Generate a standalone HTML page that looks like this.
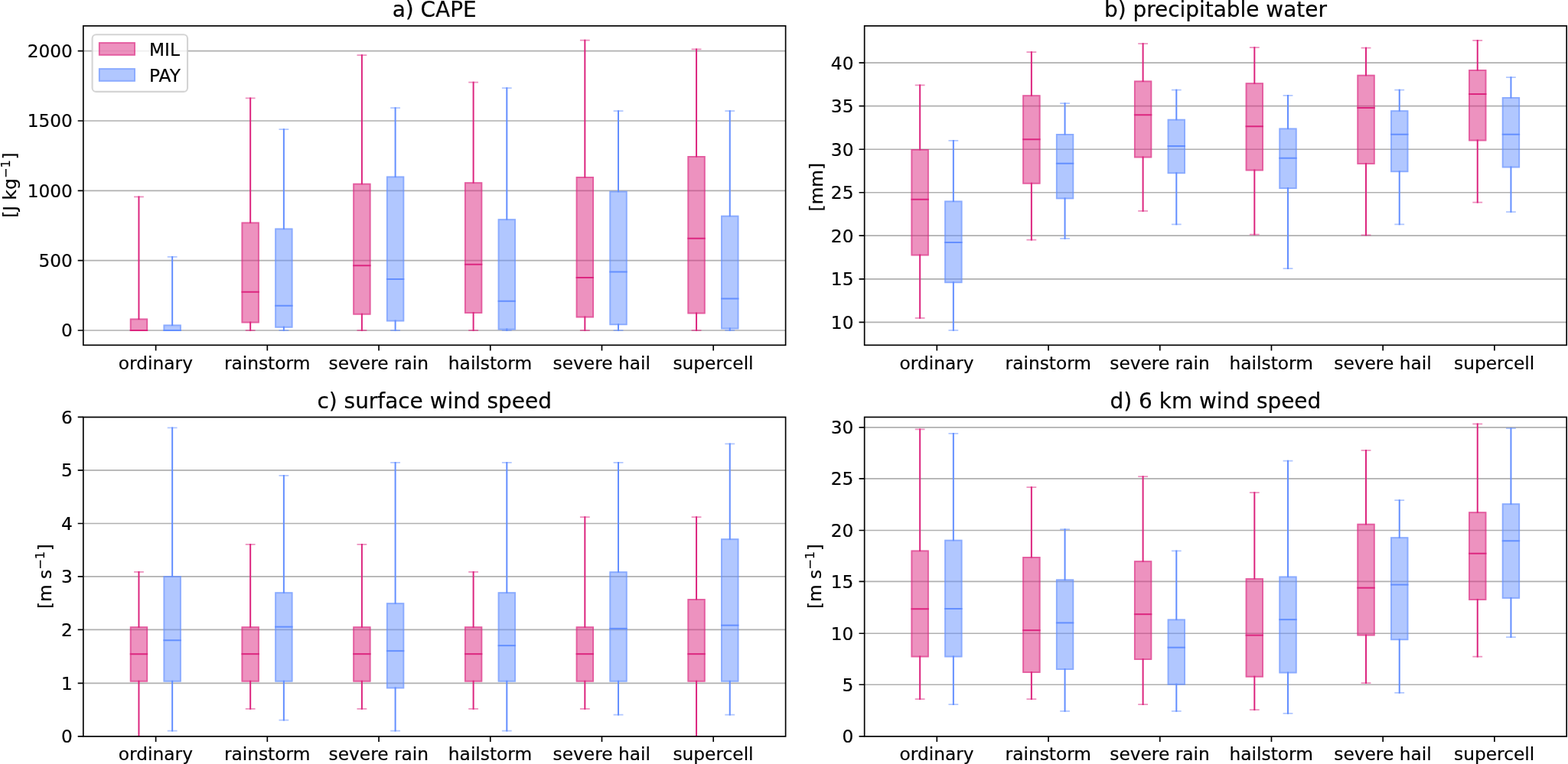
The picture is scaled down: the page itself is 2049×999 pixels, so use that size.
<!DOCTYPE html>
<html lang="en"><head><meta charset="utf-8"><title>Convective environment box plots</title>
<style>html,body{margin:0;padding:0;background:#fff}body{width:2049px;height:999px;overflow:hidden}svg{display:block}text{font-family:"DejaVu Sans","Liberation Sans",sans-serif;fill:#000;stroke:#000;stroke-width:.2px;stroke-linejoin:round}.t{font-size:23.25px}.ti{font-size:27.93px}.xt{font-size:23.3px}.sup{font-size:16.27px}</style></head><body>
<svg width="2049" height="999" viewBox="0 0 2049 999">
<rect width="2049" height="999" fill="#fff"/>
<g id="panel-a">
<clipPath id="clip-a"><rect x="108.8" y="33.85" width="917.8" height="417.45"/></clipPath>
<path d="M108.8 432H1026.6M108.8 340.68H1026.6M108.8 249.35H1026.6M108.8 158.02H1026.6M108.8 66.7H1026.6" stroke="#b0b0b0" stroke-width="1.67" fill="none" clip-path="url(#clip-a)"/>
<g clip-path="url(#clip-a)">
<path d="M181.45 418V256.55M181.45 431V432.9" stroke="#DC267F" stroke-width="2.0" fill="none"/><path d="M175.05 257.45H187.85M175.05 432H187.85" stroke="#DC267F" stroke-opacity=".5" stroke-width="1.8" fill="none"/><rect x="169.8" y="416.5" width="23.3" height="16.4" fill="#DC267F" fill-opacity=".5"/><rect x="170.75" y="417.45" width="21.4" height="14.5" fill="none" stroke="#DC267F" stroke-opacity=".5" stroke-width="1.9"/><path d="M169.8 432H193.1" stroke="#DC267F" stroke-width="2.0" fill="none"/>
<path d="M327.17 292V127.55M327.17 420.5V432.9" stroke="#DC267F" stroke-width="2.0" fill="none"/><path d="M320.77 128.45H333.57M320.77 432H333.57" stroke="#DC267F" stroke-opacity=".5" stroke-width="1.8" fill="none"/><rect x="315.52" y="290.5" width="23.3" height="131.9" fill="#DC267F" fill-opacity=".5"/><rect x="316.47" y="291.45" width="21.4" height="130" fill="none" stroke="#DC267F" stroke-opacity=".5" stroke-width="1.9"/><path d="M315.52 381.65H338.82" stroke="#DC267F" stroke-width="2.0" fill="none"/>
<path d="M472.89 241.25V71.3M472.89 409.75V432.9" stroke="#DC267F" stroke-width="2.0" fill="none"/><path d="M466.49 72.2H479.29M466.49 432H479.29" stroke="#DC267F" stroke-opacity=".5" stroke-width="1.8" fill="none"/><rect x="461.24" y="239.75" width="23.3" height="171.9" fill="#DC267F" fill-opacity=".5"/><rect x="462.19" y="240.7" width="21.4" height="170" fill="none" stroke="#DC267F" stroke-opacity=".5" stroke-width="1.9"/><path d="M461.24 347.15H484.54" stroke="#DC267F" stroke-width="2.0" fill="none"/>
<path d="M618.61 239.75V106.8M618.61 408V432.9" stroke="#DC267F" stroke-width="2.0" fill="none"/><path d="M612.21 107.7H625.01M612.21 432H625.01" stroke="#DC267F" stroke-opacity=".5" stroke-width="1.8" fill="none"/><rect x="606.96" y="238.25" width="23.3" height="171.65" fill="#DC267F" fill-opacity=".5"/><rect x="607.91" y="239.2" width="21.4" height="169.75" fill="none" stroke="#DC267F" stroke-opacity=".5" stroke-width="1.9"/><path d="M606.96 345.65H630.26" stroke="#DC267F" stroke-width="2.0" fill="none"/>
<path d="M764.33 232.5V51.8M764.33 413.5V432.9" stroke="#DC267F" stroke-width="2.0" fill="none"/><path d="M757.93 52.7H770.73M757.93 432H770.73" stroke="#DC267F" stroke-opacity=".5" stroke-width="1.8" fill="none"/><rect x="752.68" y="231" width="23.3" height="184.4" fill="#DC267F" fill-opacity=".5"/><rect x="753.63" y="231.95" width="21.4" height="182.5" fill="none" stroke="#DC267F" stroke-opacity=".5" stroke-width="1.9"/><path d="M752.68 362.9H775.98" stroke="#DC267F" stroke-width="2.0" fill="none"/>
<path d="M910.05 205.5V63.55M910.05 408.5V432.9" stroke="#DC267F" stroke-width="2.0" fill="none"/><path d="M903.65 64.45H916.45M903.65 432H916.45" stroke="#DC267F" stroke-opacity=".5" stroke-width="1.8" fill="none"/><rect x="898.4" y="204" width="23.3" height="206.4" fill="#DC267F" fill-opacity=".5"/><rect x="899.35" y="204.95" width="21.4" height="204.5" fill="none" stroke="#DC267F" stroke-opacity=".5" stroke-width="1.9"/><path d="M898.4 311.65H921.7" stroke="#DC267F" stroke-width="2.0" fill="none"/>
<path d="M225.15 426V335.05M225.15 431V432.9" stroke="#648FFF" stroke-width="2.0" fill="none"/><path d="M218.75 335.95H231.55M218.75 432H231.55" stroke="#648FFF" stroke-opacity=".5" stroke-width="1.8" fill="none"/><rect x="213.5" y="424.5" width="23.3" height="8.4" fill="#648FFF" fill-opacity=".5"/><rect x="214.45" y="425.45" width="21.4" height="6.5" fill="none" stroke="#648FFF" stroke-opacity=".5" stroke-width="1.9"/><path d="M213.5 432H236.8" stroke="#648FFF" stroke-width="2.0" fill="none"/>
<path d="M370.87 300V168.15M370.87 426.75V432.9" stroke="#648FFF" stroke-width="2.0" fill="none"/><path d="M364.47 169.05H377.27M364.47 432H377.27" stroke="#648FFF" stroke-opacity=".5" stroke-width="1.8" fill="none"/><rect x="359.22" y="298.5" width="23.3" height="130.15" fill="#648FFF" fill-opacity=".5"/><rect x="360.17" y="299.45" width="21.4" height="128.25" fill="none" stroke="#648FFF" stroke-opacity=".5" stroke-width="1.9"/><path d="M359.22 399.65H382.52" stroke="#648FFF" stroke-width="2.0" fill="none"/>
<path d="M516.59 232V140.3M516.59 418.5V432.9" stroke="#648FFF" stroke-width="2.0" fill="none"/><path d="M510.19 141.2H522.99M510.19 432H522.99" stroke="#648FFF" stroke-opacity=".5" stroke-width="1.8" fill="none"/><rect x="504.94" y="230.5" width="23.3" height="189.9" fill="#648FFF" fill-opacity=".5"/><rect x="505.89" y="231.45" width="21.4" height="188" fill="none" stroke="#648FFF" stroke-opacity=".5" stroke-width="1.9"/><path d="M504.94 364.9H528.24" stroke="#648FFF" stroke-width="2.0" fill="none"/>
<path d="M662.31 287.75V114.3M662.31 429.5V432.9" stroke="#648FFF" stroke-width="2.0" fill="none"/><path d="M655.91 115.2H668.71M655.91 432H668.71" stroke="#648FFF" stroke-opacity=".5" stroke-width="1.8" fill="none"/><rect x="650.66" y="286.25" width="23.3" height="145.15" fill="#648FFF" fill-opacity=".5"/><rect x="651.61" y="287.2" width="21.4" height="143.25" fill="none" stroke="#648FFF" stroke-opacity=".5" stroke-width="1.9"/><path d="M650.66 393.65H673.96" stroke="#648FFF" stroke-width="2.0" fill="none"/>
<path d="M808.03 251.25V144.3M808.03 423.25V432.9" stroke="#648FFF" stroke-width="2.0" fill="none"/><path d="M801.63 145.2H814.43M801.63 432H814.43" stroke="#648FFF" stroke-opacity=".5" stroke-width="1.8" fill="none"/><rect x="796.38" y="249.75" width="23.3" height="175.4" fill="#648FFF" fill-opacity=".5"/><rect x="797.33" y="250.7" width="21.4" height="173.5" fill="none" stroke="#648FFF" stroke-opacity=".5" stroke-width="1.9"/><path d="M796.38 355.4H819.68" stroke="#648FFF" stroke-width="2.0" fill="none"/>
<path d="M953.75 283.25V144.3M953.75 428.5V432.9" stroke="#648FFF" stroke-width="2.0" fill="none"/><path d="M947.35 145.2H960.15M947.35 432H960.15" stroke="#648FFF" stroke-opacity=".5" stroke-width="1.8" fill="none"/><rect x="942.1" y="281.75" width="23.3" height="148.65" fill="#648FFF" fill-opacity=".5"/><rect x="943.05" y="282.7" width="21.4" height="146.75" fill="none" stroke="#648FFF" stroke-opacity=".5" stroke-width="1.9"/><path d="M942.1 390.4H965.4" stroke="#648FFF" stroke-width="2.0" fill="none"/>
</g>
<path d="M108.8 432h-7.1M108.8 340.68h-7.1M108.8 249.35h-7.1M108.8 158.02h-7.1M108.8 66.7h-7.1M203.6 451.3v7.1M349.32 451.3v7.1M495.04 451.3v7.1M640.76 451.3v7.1M786.48 451.3v7.1M932.2 451.3v7.1" stroke="#000" stroke-width="1.67" fill="none"/>
<rect x="108.8" y="33.85" width="917.8" height="417.45" fill="none" stroke="#000" stroke-width="1.67"/>
<text class="t" x="94.9" y="440.45" text-anchor="end">0</text>
<text class="t" x="94.9" y="349.12" text-anchor="end">500</text>
<text class="t" x="94.9" y="257.8" text-anchor="end">1000</text>
<text class="t" x="94.9" y="166.47" text-anchor="end">1500</text>
<text class="t" x="94.9" y="75.15" text-anchor="end">2000</text>
<text class="xt" x="203.4" y="482.5" text-anchor="middle">ordinary</text>
<text class="xt" x="349.12" y="482.5" text-anchor="middle">rainstorm</text>
<text class="xt" x="494.84" y="482.5" text-anchor="middle">severe rain</text>
<text class="xt" x="640.56" y="482.5" text-anchor="middle">hailstorm</text>
<text class="xt" x="786.28" y="482.5" text-anchor="middle">severe hail</text>
<text class="xt" x="932" y="482.5" text-anchor="middle">supercell</text>
<text class="ti" x="567.7" y="21.85" text-anchor="middle">a) CAPE</text>
<text class="t" transform="translate(21.4 242.08) rotate(-90)" text-anchor="middle">[J kg<tspan class="sup" dy="-8.4" dx="0.2">−1</tspan><tspan dy="8.4" dx="0.6">]</tspan></text>
</g>
<g id="panel-b">
<clipPath id="clip-b"><rect x="1129.65" y="33.85" width="917.55" height="417.45"/></clipPath>
<path d="M1129.65 421.3H2047.2M1129.65 364.8H2047.2M1129.65 308.1H2047.2M1129.65 251.75H2047.2M1129.65 195.25H2047.2M1129.65 138.55H2047.2M1129.65 82.2H2047.2" stroke="#b0b0b0" stroke-width="1.67" fill="none" clip-path="url(#clip-b)"/>
<g clip-path="url(#clip-b)">
<path d="M1202.15 196.5V110.55M1202.15 332.5V416.8" stroke="#DC267F" stroke-width="2.0" fill="none"/><path d="M1195.75 111.45H1208.55M1195.75 415.9H1208.55" stroke="#DC267F" stroke-opacity=".5" stroke-width="1.8" fill="none"/><rect x="1190.5" y="195" width="23.3" height="139.4" fill="#DC267F" fill-opacity=".5"/><rect x="1191.45" y="195.95" width="21.4" height="137.5" fill="none" stroke="#DC267F" stroke-opacity=".5" stroke-width="1.9"/><path d="M1190.5 260.75H1213.8" stroke="#DC267F" stroke-width="2.0" fill="none"/>
<path d="M1347.87 125.75V67.3M1347.87 238.75V314.55" stroke="#DC267F" stroke-width="2.0" fill="none"/><path d="M1341.47 68.2H1354.27M1341.47 313.65H1354.27" stroke="#DC267F" stroke-opacity=".5" stroke-width="1.8" fill="none"/><rect x="1336.22" y="124.25" width="23.3" height="116.4" fill="#DC267F" fill-opacity=".5"/><rect x="1337.17" y="125.2" width="21.4" height="114.5" fill="none" stroke="#DC267F" stroke-opacity=".5" stroke-width="1.9"/><path d="M1336.22 182.15H1359.52" stroke="#DC267F" stroke-width="2.0" fill="none"/>
<path d="M1493.59 107V56.3M1493.59 204.5V276.8" stroke="#DC267F" stroke-width="2.0" fill="none"/><path d="M1487.19 57.2H1499.99M1487.19 275.9H1499.99" stroke="#DC267F" stroke-opacity=".5" stroke-width="1.8" fill="none"/><rect x="1481.94" y="105.5" width="23.3" height="100.9" fill="#DC267F" fill-opacity=".5"/><rect x="1482.89" y="106.45" width="21.4" height="99" fill="none" stroke="#DC267F" stroke-opacity=".5" stroke-width="1.9"/><path d="M1481.94 150.15H1505.24" stroke="#DC267F" stroke-width="2.0" fill="none"/>
<path d="M1639.31 109.75V61.3M1639.31 221.5V307.55" stroke="#DC267F" stroke-width="2.0" fill="none"/><path d="M1632.91 62.2H1645.71M1632.91 306.65H1645.71" stroke="#DC267F" stroke-opacity=".5" stroke-width="1.8" fill="none"/><rect x="1627.66" y="108.25" width="23.3" height="115.15" fill="#DC267F" fill-opacity=".5"/><rect x="1628.61" y="109.2" width="21.4" height="113.25" fill="none" stroke="#DC267F" stroke-opacity=".5" stroke-width="1.9"/><path d="M1627.66 165.15H1650.96" stroke="#DC267F" stroke-width="2.0" fill="none"/>
<path d="M1785.03 99.25V61.8M1785.03 213V308.3" stroke="#DC267F" stroke-width="2.0" fill="none"/><path d="M1778.63 62.7H1791.43M1778.63 307.4H1791.43" stroke="#DC267F" stroke-opacity=".5" stroke-width="1.8" fill="none"/><rect x="1773.38" y="97.75" width="23.3" height="117.15" fill="#DC267F" fill-opacity=".5"/><rect x="1774.33" y="98.7" width="21.4" height="115.25" fill="none" stroke="#DC267F" stroke-opacity=".5" stroke-width="1.9"/><path d="M1773.38 140.9H1796.68" stroke="#DC267F" stroke-width="2.0" fill="none"/>
<path d="M1930.75 92.5V52.05M1930.75 182.5V265.45" stroke="#DC267F" stroke-width="2.0" fill="none"/><path d="M1924.35 52.95H1937.15M1924.35 264.55H1937.15" stroke="#DC267F" stroke-opacity=".5" stroke-width="1.8" fill="none"/><rect x="1919.1" y="91" width="23.3" height="93.4" fill="#DC267F" fill-opacity=".5"/><rect x="1920.05" y="91.95" width="21.4" height="91.5" fill="none" stroke="#DC267F" stroke-opacity=".5" stroke-width="1.9"/><path d="M1919.1 122.9H1942.4" stroke="#DC267F" stroke-width="2.0" fill="none"/>
<path d="M1245.85 264V183.05M1245.85 368.25V432.8" stroke="#648FFF" stroke-width="2.0" fill="none"/><path d="M1239.45 183.95H1252.25M1239.45 431.9H1252.25" stroke="#648FFF" stroke-opacity=".5" stroke-width="1.8" fill="none"/><rect x="1234.2" y="262.5" width="23.3" height="107.65" fill="#648FFF" fill-opacity=".5"/><rect x="1235.15" y="263.45" width="21.4" height="105.75" fill="none" stroke="#648FFF" stroke-opacity=".5" stroke-width="1.9"/><path d="M1234.2 316.9H1257.5" stroke="#648FFF" stroke-width="2.0" fill="none"/>
<path d="M1391.57 176.5V134.3M1391.57 258.4V312.8" stroke="#648FFF" stroke-width="2.0" fill="none"/><path d="M1385.17 135.2H1397.97M1385.17 311.9H1397.97" stroke="#648FFF" stroke-opacity=".5" stroke-width="1.8" fill="none"/><rect x="1379.92" y="175" width="23.3" height="85.3" fill="#648FFF" fill-opacity=".5"/><rect x="1380.87" y="175.95" width="21.4" height="83.4" fill="none" stroke="#648FFF" stroke-opacity=".5" stroke-width="1.9"/><path d="M1379.92 213.65H1403.22" stroke="#648FFF" stroke-width="2.0" fill="none"/>
<path d="M1537.29 157.25V116.8M1537.29 225.25V294.3" stroke="#648FFF" stroke-width="2.0" fill="none"/><path d="M1530.89 117.7H1543.69M1530.89 293.4H1543.69" stroke="#648FFF" stroke-opacity=".5" stroke-width="1.8" fill="none"/><rect x="1525.64" y="155.75" width="23.3" height="71.4" fill="#648FFF" fill-opacity=".5"/><rect x="1526.59" y="156.7" width="21.4" height="69.5" fill="none" stroke="#648FFF" stroke-opacity=".5" stroke-width="1.9"/><path d="M1525.64 190.9H1548.94" stroke="#648FFF" stroke-width="2.0" fill="none"/>
<path d="M1683.01 169V124.05M1683.01 245.1V352.05" stroke="#648FFF" stroke-width="2.0" fill="none"/><path d="M1676.61 124.95H1689.41M1676.61 351.15H1689.41" stroke="#648FFF" stroke-opacity=".5" stroke-width="1.8" fill="none"/><rect x="1671.36" y="167.5" width="23.3" height="79.5" fill="#648FFF" fill-opacity=".5"/><rect x="1672.31" y="168.45" width="21.4" height="77.6" fill="none" stroke="#648FFF" stroke-opacity=".5" stroke-width="1.9"/><path d="M1671.36 206.65H1694.66" stroke="#648FFF" stroke-width="2.0" fill="none"/>
<path d="M1828.73 145.75V116.8M1828.73 223.25V294.3" stroke="#648FFF" stroke-width="2.0" fill="none"/><path d="M1822.33 117.7H1835.13M1822.33 293.4H1835.13" stroke="#648FFF" stroke-opacity=".5" stroke-width="1.8" fill="none"/><rect x="1817.08" y="144.25" width="23.3" height="80.9" fill="#648FFF" fill-opacity=".5"/><rect x="1818.03" y="145.2" width="21.4" height="79" fill="none" stroke="#648FFF" stroke-opacity=".5" stroke-width="1.9"/><path d="M1817.08 175.65H1840.38" stroke="#648FFF" stroke-width="2.0" fill="none"/>
<path d="M1974.45 128.5V100.3M1974.45 217.5V278.05" stroke="#648FFF" stroke-width="2.0" fill="none"/><path d="M1968.05 101.2H1980.85M1968.05 277.15H1980.85" stroke="#648FFF" stroke-opacity=".5" stroke-width="1.8" fill="none"/><rect x="1962.8" y="127" width="23.3" height="92.4" fill="#648FFF" fill-opacity=".5"/><rect x="1963.75" y="127.95" width="21.4" height="90.5" fill="none" stroke="#648FFF" stroke-opacity=".5" stroke-width="1.9"/><path d="M1962.8 175.65H1986.1" stroke="#648FFF" stroke-width="2.0" fill="none"/>
</g>
<path d="M1129.65 421.3h-7.1M1129.65 364.8h-7.1M1129.65 308.1h-7.1M1129.65 251.75h-7.1M1129.65 195.25h-7.1M1129.65 138.55h-7.1M1129.65 82.2h-7.1M1224.3 451.3v7.1M1370.02 451.3v7.1M1515.74 451.3v7.1M1661.46 451.3v7.1M1807.18 451.3v7.1M1952.9 451.3v7.1" stroke="#000" stroke-width="1.67" fill="none"/>
<rect x="1129.65" y="33.85" width="917.55" height="417.45" fill="none" stroke="#000" stroke-width="1.67"/>
<text class="t" x="1115.45" y="429.75" text-anchor="end">10</text>
<text class="t" x="1115.45" y="373.25" text-anchor="end">15</text>
<text class="t" x="1115.45" y="316.55" text-anchor="end">20</text>
<text class="t" x="1115.45" y="260.2" text-anchor="end">25</text>
<text class="t" x="1115.45" y="203.7" text-anchor="end">30</text>
<text class="t" x="1115.45" y="147" text-anchor="end">35</text>
<text class="t" x="1115.45" y="90.65" text-anchor="end">40</text>
<text class="xt" x="1224.1" y="482.5" text-anchor="middle">ordinary</text>
<text class="xt" x="1369.82" y="482.5" text-anchor="middle">rainstorm</text>
<text class="xt" x="1515.54" y="482.5" text-anchor="middle">severe rain</text>
<text class="xt" x="1661.26" y="482.5" text-anchor="middle">hailstorm</text>
<text class="xt" x="1806.98" y="482.5" text-anchor="middle">severe hail</text>
<text class="xt" x="1952.7" y="482.5" text-anchor="middle">supercell</text>
<text class="ti" x="1588.43" y="21.85" text-anchor="middle">b) precipitable water</text>
<text class="t" transform="translate(1075.1 244.68) rotate(-90)" text-anchor="middle">[mm]</text>
</g>
<g id="panel-c">
<clipPath id="clip-c"><rect x="108.8" y="545.45" width="917.8" height="417.5"/></clipPath>
<path d="M108.8 962.9H1026.6M108.8 893.35H1026.6M108.8 823.35H1026.6M108.8 753.85H1026.6M108.8 684.5H1026.6M108.8 614.85H1026.6M108.8 545.45H1026.6" stroke="#b0b0b0" stroke-width="1.67" fill="none" clip-path="url(#clip-c)"/>
<g clip-path="url(#clip-c)">
<path d="M181.45 820.75V747.05M181.45 889.75V963.85" stroke="#DC267F" stroke-width="2.0" fill="none"/><path d="M175.05 747.95H187.85M175.05 962.95H187.85" stroke="#DC267F" stroke-opacity=".5" stroke-width="1.8" fill="none"/><rect x="169.8" y="819.25" width="23.3" height="72.4" fill="#DC267F" fill-opacity=".5"/><rect x="170.75" y="820.2" width="21.4" height="70.5" fill="none" stroke="#DC267F" stroke-opacity=".5" stroke-width="1.9"/><path d="M169.8 855.15H193.1" stroke="#DC267F" stroke-width="2.0" fill="none"/>
<path d="M327.17 820.75V711.05M327.17 889.75V927.8" stroke="#DC267F" stroke-width="2.0" fill="none"/><path d="M320.77 711.95H333.57M320.77 926.9H333.57" stroke="#DC267F" stroke-opacity=".5" stroke-width="1.8" fill="none"/><rect x="315.52" y="819.25" width="23.3" height="72.4" fill="#DC267F" fill-opacity=".5"/><rect x="316.47" y="820.2" width="21.4" height="70.5" fill="none" stroke="#DC267F" stroke-opacity=".5" stroke-width="1.9"/><path d="M315.52 855.15H338.82" stroke="#DC267F" stroke-width="2.0" fill="none"/>
<path d="M472.89 820.75V711.05M472.89 889.75V927.8" stroke="#DC267F" stroke-width="2.0" fill="none"/><path d="M466.49 711.95H479.29M466.49 926.9H479.29" stroke="#DC267F" stroke-opacity=".5" stroke-width="1.8" fill="none"/><rect x="461.24" y="819.25" width="23.3" height="72.4" fill="#DC267F" fill-opacity=".5"/><rect x="462.19" y="820.2" width="21.4" height="70.5" fill="none" stroke="#DC267F" stroke-opacity=".5" stroke-width="1.9"/><path d="M461.24 855.15H484.54" stroke="#DC267F" stroke-width="2.0" fill="none"/>
<path d="M618.61 820.75V747.05M618.61 889.75V927.8" stroke="#DC267F" stroke-width="2.0" fill="none"/><path d="M612.21 747.95H625.01M612.21 926.9H625.01" stroke="#DC267F" stroke-opacity=".5" stroke-width="1.8" fill="none"/><rect x="606.96" y="819.25" width="23.3" height="72.4" fill="#DC267F" fill-opacity=".5"/><rect x="607.91" y="820.2" width="21.4" height="70.5" fill="none" stroke="#DC267F" stroke-opacity=".5" stroke-width="1.9"/><path d="M606.96 855.15H630.26" stroke="#DC267F" stroke-width="2.0" fill="none"/>
<path d="M764.33 820.75V675.3M764.33 889.75V927.8" stroke="#DC267F" stroke-width="2.0" fill="none"/><path d="M757.93 676.2H770.73M757.93 926.9H770.73" stroke="#DC267F" stroke-opacity=".5" stroke-width="1.8" fill="none"/><rect x="752.68" y="819.25" width="23.3" height="72.4" fill="#DC267F" fill-opacity=".5"/><rect x="753.63" y="820.2" width="21.4" height="70.5" fill="none" stroke="#DC267F" stroke-opacity=".5" stroke-width="1.9"/><path d="M752.68 855.15H775.98" stroke="#DC267F" stroke-width="2.0" fill="none"/>
<path d="M910.05 784.6V675.3M910.05 889.75V963.85" stroke="#DC267F" stroke-width="2.0" fill="none"/><path d="M903.65 676.2H916.45M903.65 962.95H916.45" stroke="#DC267F" stroke-opacity=".5" stroke-width="1.8" fill="none"/><rect x="898.4" y="783.1" width="23.3" height="108.55" fill="#DC267F" fill-opacity=".5"/><rect x="899.35" y="784.05" width="21.4" height="106.65" fill="none" stroke="#DC267F" stroke-opacity=".5" stroke-width="1.9"/><path d="M898.4 855.15H921.7" stroke="#DC267F" stroke-width="2.0" fill="none"/>
<path d="M225.15 754.6V558.55M225.15 889.75V956.55" stroke="#648FFF" stroke-width="2.0" fill="none"/><path d="M218.75 559.45H231.55M218.75 955.65H231.55" stroke="#648FFF" stroke-opacity=".5" stroke-width="1.8" fill="none"/><rect x="213.5" y="753.1" width="23.3" height="138.55" fill="#648FFF" fill-opacity=".5"/><rect x="214.45" y="754.05" width="21.4" height="136.65" fill="none" stroke="#648FFF" stroke-opacity=".5" stroke-width="1.9"/><path d="M213.5 837.15H236.8" stroke="#648FFF" stroke-width="2.0" fill="none"/>
<path d="M370.87 775.75V621.05M370.87 889.75V942.55" stroke="#648FFF" stroke-width="2.0" fill="none"/><path d="M364.47 621.95H377.27M364.47 941.65H377.27" stroke="#648FFF" stroke-opacity=".5" stroke-width="1.8" fill="none"/><rect x="359.22" y="774.25" width="23.3" height="117.4" fill="#648FFF" fill-opacity=".5"/><rect x="360.17" y="775.2" width="21.4" height="115.5" fill="none" stroke="#648FFF" stroke-opacity=".5" stroke-width="1.9"/><path d="M359.22 819.65H382.52" stroke="#648FFF" stroke-width="2.0" fill="none"/>
<path d="M516.59 789.75V604.05M516.59 898.5V956.55" stroke="#648FFF" stroke-width="2.0" fill="none"/><path d="M510.19 604.95H522.99M510.19 955.65H522.99" stroke="#648FFF" stroke-opacity=".5" stroke-width="1.8" fill="none"/><rect x="504.94" y="788.25" width="23.3" height="112.15" fill="#648FFF" fill-opacity=".5"/><rect x="505.89" y="789.2" width="21.4" height="110.25" fill="none" stroke="#648FFF" stroke-opacity=".5" stroke-width="1.9"/><path d="M504.94 851.15H528.24" stroke="#648FFF" stroke-width="2.0" fill="none"/>
<path d="M662.31 775.75V604.05M662.31 889.75V956.55" stroke="#648FFF" stroke-width="2.0" fill="none"/><path d="M655.91 604.95H668.71M655.91 955.65H668.71" stroke="#648FFF" stroke-opacity=".5" stroke-width="1.8" fill="none"/><rect x="650.66" y="774.25" width="23.3" height="117.4" fill="#648FFF" fill-opacity=".5"/><rect x="651.61" y="775.2" width="21.4" height="115.5" fill="none" stroke="#648FFF" stroke-opacity=".5" stroke-width="1.9"/><path d="M650.66 844.15H673.96" stroke="#648FFF" stroke-width="2.0" fill="none"/>
<path d="M808.03 748.75V604.05M808.03 889.75V935.55" stroke="#648FFF" stroke-width="2.0" fill="none"/><path d="M801.63 604.95H814.43M801.63 934.65H814.43" stroke="#648FFF" stroke-opacity=".5" stroke-width="1.8" fill="none"/><rect x="796.38" y="747.25" width="23.3" height="144.4" fill="#648FFF" fill-opacity=".5"/><rect x="797.33" y="748.2" width="21.4" height="142.5" fill="none" stroke="#648FFF" stroke-opacity=".5" stroke-width="1.9"/><path d="M796.38 821.9H819.68" stroke="#648FFF" stroke-width="2.0" fill="none"/>
<path d="M953.75 705.75V579.55M953.75 889.75V935.55" stroke="#648FFF" stroke-width="2.0" fill="none"/><path d="M947.35 580.45H960.15M947.35 934.65H960.15" stroke="#648FFF" stroke-opacity=".5" stroke-width="1.8" fill="none"/><rect x="942.1" y="704.25" width="23.3" height="187.4" fill="#648FFF" fill-opacity=".5"/><rect x="943.05" y="705.2" width="21.4" height="185.5" fill="none" stroke="#648FFF" stroke-opacity=".5" stroke-width="1.9"/><path d="M942.1 817.65H965.4" stroke="#648FFF" stroke-width="2.0" fill="none"/>
</g>
<path d="M108.8 962.9h-7.1M108.8 893.35h-7.1M108.8 823.35h-7.1M108.8 753.85h-7.1M108.8 684.5h-7.1M108.8 614.85h-7.1M108.8 545.45h-7.1M203.6 962.95v7.1M349.32 962.95v7.1M495.04 962.95v7.1M640.76 962.95v7.1M786.48 962.95v7.1M932.2 962.95v7.1" stroke="#000" stroke-width="1.67" fill="none"/>
<rect x="108.8" y="545.45" width="917.8" height="417.5" fill="none" stroke="#000" stroke-width="1.67"/>
<text class="t" x="94.9" y="971.35" text-anchor="end">0</text>
<text class="t" x="94.9" y="901.8" text-anchor="end">1</text>
<text class="t" x="94.9" y="831.8" text-anchor="end">2</text>
<text class="t" x="94.9" y="762.3" text-anchor="end">3</text>
<text class="t" x="94.9" y="692.95" text-anchor="end">4</text>
<text class="t" x="94.9" y="623.3" text-anchor="end">5</text>
<text class="t" x="94.9" y="553.9" text-anchor="end">6</text>
<text class="xt" x="203.4" y="994" text-anchor="middle">ordinary</text>
<text class="xt" x="349.12" y="994" text-anchor="middle">rainstorm</text>
<text class="xt" x="494.84" y="994" text-anchor="middle">severe rain</text>
<text class="xt" x="640.56" y="994" text-anchor="middle">hailstorm</text>
<text class="xt" x="786.28" y="994" text-anchor="middle">severe hail</text>
<text class="xt" x="932" y="994" text-anchor="middle">supercell</text>
<text class="ti" x="567.7" y="533.75" text-anchor="middle">c) surface wind speed</text>
<text class="t" transform="translate(66.7 753.6) rotate(-90)" text-anchor="middle">[m s<tspan class="sup" dy="-8.9" dx="0.0">−1</tspan><tspan dy="8.9" dx="0.6">]</tspan></text>
</g>
<g id="panel-d">
<clipPath id="clip-d"><rect x="1129.65" y="545.45" width="917.55" height="417.5"/></clipPath>
<path d="M1129.65 962.9H2047.2M1129.65 895.25H2047.2M1129.65 828.25H2047.2M1129.65 760.45H2047.2M1129.65 693.5H2047.2M1129.65 625.8H2047.2M1129.65 558.95H2047.2" stroke="#b0b0b0" stroke-width="1.67" fill="none" clip-path="url(#clip-d)"/>
<g clip-path="url(#clip-d)">
<path d="M1202.15 721V560.55M1202.15 857.5V915.05" stroke="#DC267F" stroke-width="2.0" fill="none"/><path d="M1195.75 561.45H1208.55M1195.75 914.15H1208.55" stroke="#DC267F" stroke-opacity=".5" stroke-width="1.8" fill="none"/><rect x="1190.5" y="719.5" width="23.3" height="139.9" fill="#DC267F" fill-opacity=".5"/><rect x="1191.45" y="720.45" width="21.4" height="138" fill="none" stroke="#DC267F" stroke-opacity=".5" stroke-width="1.9"/><path d="M1190.5 796.15H1213.8" stroke="#DC267F" stroke-width="2.0" fill="none"/>
<path d="M1347.87 729.5V636.3M1347.87 878V915.05" stroke="#DC267F" stroke-width="2.0" fill="none"/><path d="M1341.47 637.2H1354.27M1341.47 914.15H1354.27" stroke="#DC267F" stroke-opacity=".5" stroke-width="1.8" fill="none"/><rect x="1336.22" y="728" width="23.3" height="151.9" fill="#DC267F" fill-opacity=".5"/><rect x="1337.17" y="728.95" width="21.4" height="150" fill="none" stroke="#DC267F" stroke-opacity=".5" stroke-width="1.9"/><path d="M1336.22 824.15H1359.52" stroke="#DC267F" stroke-width="2.0" fill="none"/>
<path d="M1493.59 734.75V622.3M1493.59 861V922.05" stroke="#DC267F" stroke-width="2.0" fill="none"/><path d="M1487.19 623.2H1499.99M1487.19 921.15H1499.99" stroke="#DC267F" stroke-opacity=".5" stroke-width="1.8" fill="none"/><rect x="1481.94" y="733.25" width="23.3" height="129.65" fill="#DC267F" fill-opacity=".5"/><rect x="1482.89" y="734.2" width="21.4" height="127.75" fill="none" stroke="#DC267F" stroke-opacity=".5" stroke-width="1.9"/><path d="M1481.94 803.15H1505.24" stroke="#DC267F" stroke-width="2.0" fill="none"/>
<path d="M1639.31 757.6V643.3M1639.31 883.75V929.05" stroke="#DC267F" stroke-width="2.0" fill="none"/><path d="M1632.91 644.2H1645.71M1632.91 928.15H1645.71" stroke="#DC267F" stroke-opacity=".5" stroke-width="1.8" fill="none"/><rect x="1627.66" y="756.1" width="23.3" height="129.55" fill="#DC267F" fill-opacity=".5"/><rect x="1628.61" y="757.05" width="21.4" height="127.65" fill="none" stroke="#DC267F" stroke-opacity=".5" stroke-width="1.9"/><path d="M1627.66 830.65H1650.96" stroke="#DC267F" stroke-width="2.0" fill="none"/>
<path d="M1785.03 686.25V588.05M1785.03 829.5V894.05" stroke="#DC267F" stroke-width="2.0" fill="none"/><path d="M1778.63 588.95H1791.43M1778.63 893.15H1791.43" stroke="#DC267F" stroke-opacity=".5" stroke-width="1.8" fill="none"/><rect x="1773.38" y="684.75" width="23.3" height="146.65" fill="#DC267F" fill-opacity=".5"/><rect x="1774.33" y="685.7" width="21.4" height="144.75" fill="none" stroke="#DC267F" stroke-opacity=".5" stroke-width="1.9"/><path d="M1773.38 768.65H1796.68" stroke="#DC267F" stroke-width="2.0" fill="none"/>
<path d="M1930.75 670.75V553.55M1930.75 783V859.55" stroke="#DC267F" stroke-width="2.0" fill="none"/><path d="M1924.35 554.45H1937.15M1924.35 858.65H1937.15" stroke="#DC267F" stroke-opacity=".5" stroke-width="1.8" fill="none"/><rect x="1919.1" y="669.25" width="23.3" height="115.65" fill="#DC267F" fill-opacity=".5"/><rect x="1920.05" y="670.2" width="21.4" height="113.75" fill="none" stroke="#DC267F" stroke-opacity=".5" stroke-width="1.9"/><path d="M1919.1 723.65H1942.4" stroke="#DC267F" stroke-width="2.0" fill="none"/>
<path d="M1245.85 707.25V566.05M1245.85 857.5V922.05" stroke="#648FFF" stroke-width="2.0" fill="none"/><path d="M1239.45 566.95H1252.25M1239.45 921.15H1252.25" stroke="#648FFF" stroke-opacity=".5" stroke-width="1.8" fill="none"/><rect x="1234.2" y="705.75" width="23.3" height="153.65" fill="#648FFF" fill-opacity=".5"/><rect x="1235.15" y="706.7" width="21.4" height="151.75" fill="none" stroke="#648FFF" stroke-opacity=".5" stroke-width="1.9"/><path d="M1234.2 795.9H1257.5" stroke="#648FFF" stroke-width="2.0" fill="none"/>
<path d="M1391.57 758.9V691.3M1391.57 874V930.8" stroke="#648FFF" stroke-width="2.0" fill="none"/><path d="M1385.17 692.2H1397.97M1385.17 929.9H1397.97" stroke="#648FFF" stroke-opacity=".5" stroke-width="1.8" fill="none"/><rect x="1379.92" y="757.4" width="23.3" height="118.5" fill="#648FFF" fill-opacity=".5"/><rect x="1380.87" y="758.35" width="21.4" height="116.6" fill="none" stroke="#648FFF" stroke-opacity=".5" stroke-width="1.9"/><path d="M1379.92 814.4H1403.22" stroke="#648FFF" stroke-width="2.0" fill="none"/>
<path d="M1537.29 811V719.55M1537.29 893.75V930.8" stroke="#648FFF" stroke-width="2.0" fill="none"/><path d="M1530.89 720.45H1543.69M1530.89 929.9H1543.69" stroke="#648FFF" stroke-opacity=".5" stroke-width="1.8" fill="none"/><rect x="1525.64" y="809.5" width="23.3" height="86.15" fill="#648FFF" fill-opacity=".5"/><rect x="1526.59" y="810.45" width="21.4" height="84.25" fill="none" stroke="#648FFF" stroke-opacity=".5" stroke-width="1.9"/><path d="M1525.64 846.65H1548.94" stroke="#648FFF" stroke-width="2.0" fill="none"/>
<path d="M1683.01 755V601.8M1683.01 878.5V933.8" stroke="#648FFF" stroke-width="2.0" fill="none"/><path d="M1676.61 602.7H1689.41M1676.61 932.9H1689.41" stroke="#648FFF" stroke-opacity=".5" stroke-width="1.8" fill="none"/><rect x="1671.36" y="753.5" width="23.3" height="126.9" fill="#648FFF" fill-opacity=".5"/><rect x="1672.31" y="754.45" width="21.4" height="125" fill="none" stroke="#648FFF" stroke-opacity=".5" stroke-width="1.9"/><path d="M1671.36 810.15H1694.66" stroke="#648FFF" stroke-width="2.0" fill="none"/>
<path d="M1828.73 703.75V653.3M1828.73 835.25V906.8" stroke="#648FFF" stroke-width="2.0" fill="none"/><path d="M1822.33 654.2H1835.13M1822.33 905.9H1835.13" stroke="#648FFF" stroke-opacity=".5" stroke-width="1.8" fill="none"/><rect x="1817.08" y="702.25" width="23.3" height="134.9" fill="#648FFF" fill-opacity=".5"/><rect x="1818.03" y="703.2" width="21.4" height="133" fill="none" stroke="#648FFF" stroke-opacity=".5" stroke-width="1.9"/><path d="M1817.08 764.55H1840.38" stroke="#648FFF" stroke-width="2.0" fill="none"/>
<path d="M1974.45 659.75V559.3M1974.45 780.9V834.05" stroke="#648FFF" stroke-width="2.0" fill="none"/><path d="M1968.05 560.2H1980.85M1968.05 833.15H1980.85" stroke="#648FFF" stroke-opacity=".5" stroke-width="1.8" fill="none"/><rect x="1962.8" y="658.25" width="23.3" height="124.55" fill="#648FFF" fill-opacity=".5"/><rect x="1963.75" y="659.2" width="21.4" height="122.65" fill="none" stroke="#648FFF" stroke-opacity=".5" stroke-width="1.9"/><path d="M1962.8 707.15H1986.1" stroke="#648FFF" stroke-width="2.0" fill="none"/>
</g>
<path d="M1129.65 962.9h-7.1M1129.65 895.25h-7.1M1129.65 828.25h-7.1M1129.65 760.45h-7.1M1129.65 693.5h-7.1M1129.65 625.8h-7.1M1129.65 558.95h-7.1M1224.3 962.95v7.1M1370.02 962.95v7.1M1515.74 962.95v7.1M1661.46 962.95v7.1M1807.18 962.95v7.1M1952.9 962.95v7.1" stroke="#000" stroke-width="1.67" fill="none"/>
<rect x="1129.65" y="545.45" width="917.55" height="417.5" fill="none" stroke="#000" stroke-width="1.67"/>
<text class="t" x="1115.25" y="971.35" text-anchor="end">0</text>
<text class="t" x="1115.25" y="903.7" text-anchor="end">5</text>
<text class="t" x="1115.25" y="836.7" text-anchor="end">10</text>
<text class="t" x="1115.25" y="768.9" text-anchor="end">15</text>
<text class="t" x="1115.25" y="701.95" text-anchor="end">20</text>
<text class="t" x="1115.25" y="634.25" text-anchor="end">25</text>
<text class="t" x="1115.25" y="567.4" text-anchor="end">30</text>
<text class="xt" x="1224.1" y="994" text-anchor="middle">ordinary</text>
<text class="xt" x="1369.82" y="994" text-anchor="middle">rainstorm</text>
<text class="xt" x="1515.54" y="994" text-anchor="middle">severe rain</text>
<text class="xt" x="1661.26" y="994" text-anchor="middle">hailstorm</text>
<text class="xt" x="1806.98" y="994" text-anchor="middle">severe hail</text>
<text class="xt" x="1952.7" y="994" text-anchor="middle">supercell</text>
<text class="ti" x="1588.43" y="533.75" text-anchor="middle">d) 6 km wind speed</text>
<text class="t" transform="translate(1072.7 753.6) rotate(-90)" text-anchor="middle">[m s<tspan class="sup" dy="-8.9" dx="0.0">−1</tspan><tspan dy="8.9" dx="0.6">]</tspan></text>
</g>
<g id="legend">
<rect x="120.6" y="45.3" width="124.4" height="74.6" rx="5" ry="5" fill="#fff" fill-opacity=".8" stroke="#ccc" stroke-opacity=".85" stroke-width="2.1"/>
<rect x="128.9" y="55.2" width="48" height="17.5" fill="#DC267F" fill-opacity=".5"/>
<rect x="129.85" y="56.150000000000006" width="46.1" height="15.6" fill="none" stroke="#DC267F" stroke-opacity=".5" stroke-width="1.9"/>
<text class="t" x="195.0" y="72.55">MIL</text>
<rect x="128.9" y="89.2" width="48" height="17.5" fill="#648FFF" fill-opacity=".5"/>
<rect x="129.85" y="90.15" width="46.1" height="15.6" fill="none" stroke="#648FFF" stroke-opacity=".5" stroke-width="1.9"/>
<text class="t" x="195.0" y="106.6">PAY</text>
</g>
</svg></body></html>
